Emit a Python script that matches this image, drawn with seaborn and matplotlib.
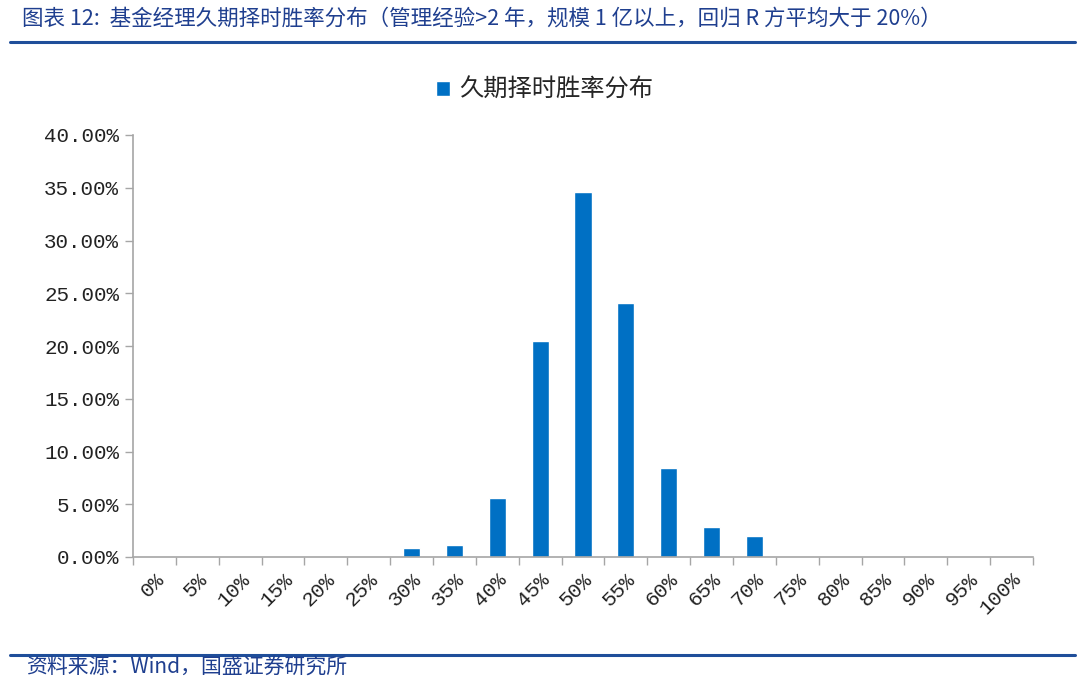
import matplotlib
matplotlib.use("Agg")
import matplotlib.pyplot as plt
import seaborn as sns
import pandas as pd
from matplotlib.lines import Line2D
from matplotlib.ticker import FuncFormatter, FixedLocator

categories = ["0%", "5%", "10%", "15%", "20%", "25%", "30%", "35%", "40%", "45%", "50%",
              "55%", "60%", "65%", "70%", "75%", "80%", "85%", "90%", "95%", "100%"]
values = [0.0, 0.0, 0.0, 0.0, 0.0, 0.0, 0.0085, 0.0118, 0.0563, 0.2045, 0.3457,
          0.2410, 0.0844, 0.0284, 0.0203, 0.0, 0.0, 0.0, 0.0, 0.0, 0.0]
series_name = "久期择时胜率分布"
title_text = "图表 12:  基金经理久期择时胜率分布（管理经验>2 年，规模 1 亿以上，回归 R 方平均大于 20%）"
source_text = "资料来源：Wind，国盛证券研究所"
y_ticks = [0.0, 0.05, 0.10, 0.15, 0.20, 0.25, 0.30, 0.35, 0.40]

sns.set_theme(style="white")
plt.rcParams["font.family"] = ["Noto Sans CJK SC", "DejaVu Sans"]

df = pd.DataFrame({"cat": categories, "val": values})

fig = plt.figure(figsize=(10.8, 6.92), dpi=100)
ax = fig.add_axes([133 / 1080, 1 - 557 / 692, 900 / 1080, 422 / 692])

sns.barplot(data=df, x="cat", y="val", color="#0070C4", width=0.4, ax=ax,
            label=series_name, saturation=1)

ax.set_xlim(-0.5, len(categories) - 0.5)
ax.set_ylim(0, 0.40)
ax.set_yticks(y_ticks)
ax.yaxis.set_major_formatter(FuncFormatter(lambda v, p: f"{v * 100:.2f}%"))
ax.set_xlabel("")
ax.set_ylabel("")

gray = "#A6A6A6"
for s in ["top", "right"]:
    ax.spines[s].set_visible(False)
for s in ["left", "bottom"]:
    ax.spines[s].set_color(gray)
    ax.spines[s].set_linewidth(1.2)

ax.tick_params(axis="y", which="major", left=True, length=6, width=1, color=gray,
               direction="out", pad=4, labelsize=15, labelcolor="#222222")
for lab in ax.get_yticklabels():
    lab.set_family(["Liberation Mono", "DejaVu Sans Mono"])

ax.xaxis.set_minor_locator(FixedLocator([i - 0.5 for i in range(len(categories) + 1)]))
ax.tick_params(axis="x", which="minor", bottom=True, length=6, width=1, color=gray, direction="out")
ax.tick_params(axis="x", which="major", bottom=False, length=0, pad=9, labelsize=15,
               labelcolor="#222222")
for lab in ax.get_xticklabels():
    lab.set_rotation(45)
    lab.set_ha("right")
    lab.set_va("top")
    lab.set_rotation_mode("anchor")
    lab.set_family(["Liberation Mono", "DejaVu Sans Mono"])

leg = ax.legend(loc="center", bbox_to_anchor=(545 / 1080, 1 - 90 / 692),
                bbox_transform=fig.transFigure, frameon=False, fontsize=17.5,
                handlelength=0.55, handleheight=0.55, handletextpad=0.4)

fig.text(22 / 1080, 1 - 19 / 692, title_text, fontsize=15.5, color="#1F3F8F",
         va="center", ha="left", style="italic")
fig.add_artist(Line2D([10 / 1080, 1075 / 1080], [1 - 42 / 692, 1 - 42 / 692],
                      transform=fig.transFigure, color="#1F4E9A", linewidth=2.2))
fig.add_artist(Line2D([10 / 1080, 1075 / 1080], [1 - 655 / 692, 1 - 655 / 692],
                      transform=fig.transFigure, color="#1F4E9A", linewidth=2.2))
fig.text(26 / 1080, 1 - 668 / 692, source_text, fontsize=15, color="#1F3F8F",
         va="center", ha="left", style="italic")

fig.savefig("out.png", dpi=100)
